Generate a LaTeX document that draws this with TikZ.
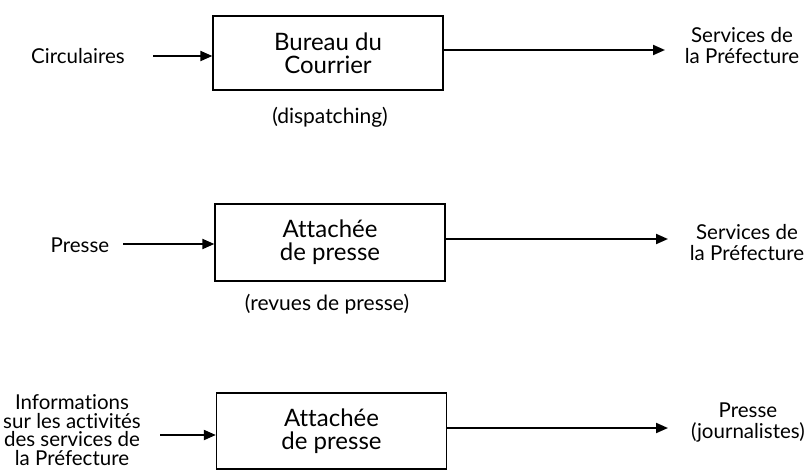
\documentclass[tikz,border=0pt]{standalone}
\usepackage{fontspec}
\setmainfont{Lato}[Ligatures=NoCommon]
\usetikzlibrary{arrows.meta}
\begin{document}
\begin{tikzpicture}[x=1pt,y=-1pt,
  box/.style={draw,line width=1.3pt,minimum width=230pt,minimum height=74pt,
    align=center,font=\fontsize{24}{23}\selectfont,inner sep=0pt},
  lbl/.style={align=center,font=\fontsize{20.5}{21}\selectfont,inner sep=0pt},
  note/.style={font=\fontsize{21}{22}\selectfont,inner sep=0pt},
  arr/.style={line width=2pt,-{Triangle[length=12pt,width=10pt]}}]
\useasboundingbox (0,0) rectangle (811,471);

% row 1: mail office
\node[box] (b1) at (328,53) {Bureau du\\Courrier};
\node[note] (n1) at (330,117) {(dispatching)};
\node[lbl] (i1) at (78,56) {Circulaires};
\node[lbl] (o1) at (742,46) {Services de\\la Préfecture};
\coordinate (e1) at (665,50);
\draw[arr] (153,56) coordinate (s1) -- (b1.west |- s1);
\draw[arr] (b1.east |- e1) -- (e1);

% row 2: press attachée, press reviews
\node[box,minimum height=77pt] (b2) at (330,242.5) {Attachée\\de presse};
\node[note] (n2) at (327,304) {(revues de presse)};
\node[lbl] (i2) at (80,245) {Presse};
\coordinate (s2) at (123,244);
\coordinate (e2) at (668,239);
\node[lbl] (o2) at (747,243) {Services de\\la Préfecture};
\draw[arr] (s2) -- (b2.west |- s2);
\draw[arr] (b2.east |- e2) -- (e2);

% row 3: press attachée, towards journalists
\node[box,minimum height=76pt] (b3) at (331.5,431) {Attachée\\de presse};
\node[lbl,font=\fontsize{20.5}{18.5}\selectfont] (i3) at (72,430)
  {Informations\\sur les activités\\des services de\\la Préfecture};
\coordinate (s3) at (160,435);
\coordinate (e3) at (668,428);
\node[lbl] (o3) at (748,423) {Presse\\(journalistes)};
\draw[arr] (s3) -- (b3.west |- s3);
\draw[arr] (b3.east |- e3) -- (e3);
\end{tikzpicture}
\end{document}
